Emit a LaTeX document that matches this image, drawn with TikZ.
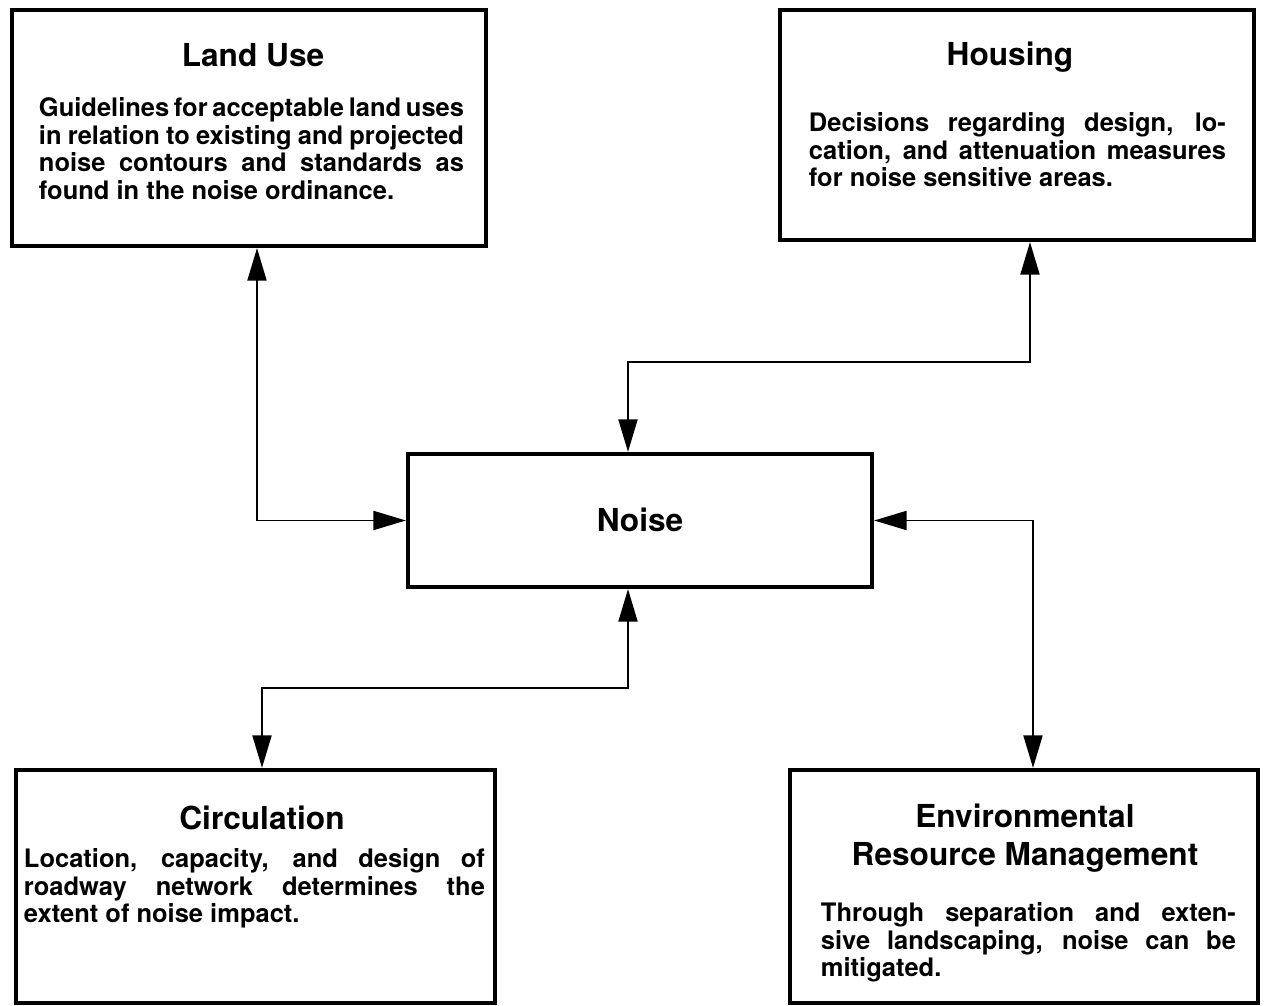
\documentclass[tikz,border=0pt]{standalone}
\usepackage{fontspec}
\setmainfont{TeX Gyre Heros}
\usepackage{tikz}
\usetikzlibrary{arrows.meta,positioning,calc}
\tolerance=10000
\hyphenpenalty=10000

\begin{document}
\begin{tikzpicture}[>={Triangle[length=6.5mm,width=3.8mm]}, font=\bfseries, line width=1.1pt,
  box/.style={draw, line width=2.4pt, inner sep=0pt},
  ttl/.style={font=\bfseries\fontsize{18}{21.6}\selectfont, align=center, inner sep=0pt},
  txt/.style={font=\bfseries\fontsize{14.5}{15.6}\selectfont, align=justify, inner sep=0pt, anchor=north west},
  link/.style={<->, line width=1.1pt}]
\useasboundingbox (0,0) rectangle (25.28,20.12);
%% boxes
\node[box, minimum width=9.48cm, minimum height=4.72cm] (landuse) at (4.98,17.56) {};
\node[box, minimum width=9.48cm, minimum height=4.6cm] (housing) at (20.34,17.62) {};
\node[box, minimum width=9.28cm, minimum height=2.66cm] (noise) at (12.8,9.71) {};
\node[box, minimum width=9.58cm, minimum height=4.66cm] (circ) at (5.11,2.39) {};
\node[box, minimum width=9.36cm, minimum height=4.66cm] (env) at (20.48,2.39) {};
%% texts
\node[ttl] (landuseT) at (5.06,19.02) {Land Use};
\node[txt, text width=8.5cm] (landuseB) at (0.76,18.18) {Guidelines for acceptable land uses\linebreak
in relation to existing and projected\linebreak
noise contours and standards as\linebreak
found in the noise ordinance.};
\node[ttl] (housingT) at (20.2,18.97) {Housing};
\node[txt, text width=8.34cm] (housingB) at (16.16,17.88) {Decisions regarding design, lo-\linebreak
cation, and attenuation measures\linebreak
for noise sensitive areas.};
\node[ttl] (noiseT) at (12.8,9.72) {Noise};
\node[ttl] (circT) at (5.24,3.76) {Circulation};
\node[txt, text width=9.22cm] (circB) at (0.46,3.16) {Location, capacity, and design of\linebreak
roadway network determines the\linebreak
extent of noise impact.};
\node[ttl] (envT) at (20.5,3.36) {Environmental\\Resource Management};
\node[txt, text width=8.3cm] (envB) at (16.4,2.08) {Through separation and exten-\linebreak
sive landscaping, noise can be\linebreak
mitigated.};
%% connectors
\draw[link] ([xshift=1.6mm]landuse.south) |- (noise.west);
\draw[link] ([xshift=2.6mm]housing.south) -- ++(0,-2.4) -| ([xshift=-2.4mm]noise.north);
\draw[link] ([xshift=-2.4mm]noise.south) -- ++(0,-1.98) -| ([xshift=1.3mm]circ.north);
\draw[link] (noise.east) -| ([xshift=1.8mm]env.north);
\end{tikzpicture}
\end{document}
